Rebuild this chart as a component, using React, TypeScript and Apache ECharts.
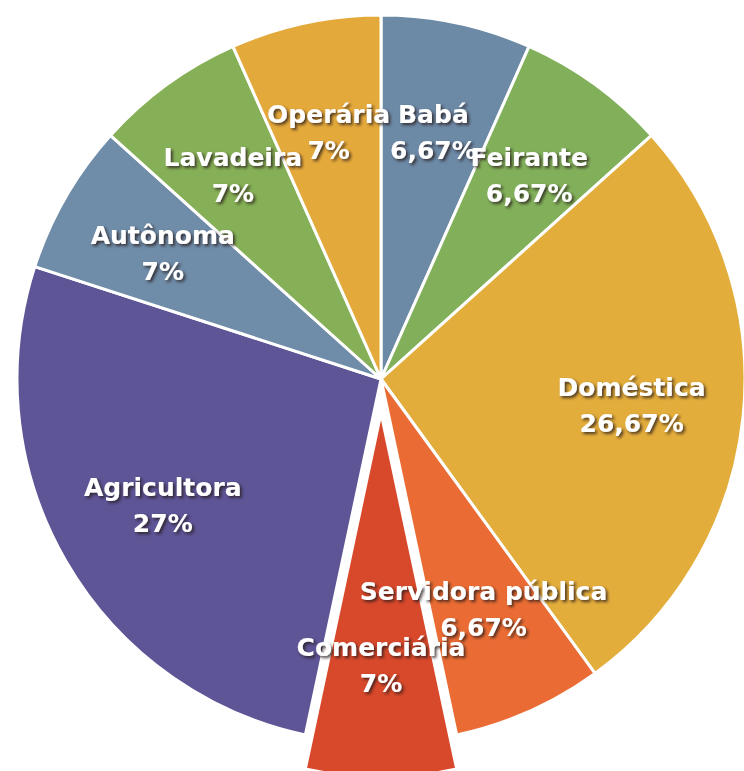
import React, { useEffect, useRef } from "react";
import * as echarts from "echarts";

const categories = [
  "Babá",
  "Feirante",
  "Doméstica",
  "Servidora pública",
  "Comerciária",
  "Agricultora",
  "Autônoma",
  "Lavadeira",
  "Operária",
];
const values = [6.67, 6.67, 26.67, 6.67, 6.67, 26.67, 6.67, 6.67, 6.67];
const percentLabels = ["6,67%", "6,67%", "26,67%", "6,67%", "7%", "27%", "7%", "7%", "7%"];
const colors = [
  "#6c89a6",
  "#82b05a",
  "#e3ad3c",
  "#ea6c34",
  "#d8492b",
  "#5d5596",
  "#6f8ca8",
  "#86b057",
  "#e4a93b",
];
const explodedIndex = 4;

export default function App() {
  const ref = useRef<HTMLDivElement>(null);
  useEffect(() => {
    if (!ref.current) return;
    const chart = echarts.init(ref.current, undefined, { renderer: "svg" });
    const center = [381, 379];
    const R = 364;
    const offset = 34;
    const mainData = categories.map((name, i) => ({
      name,
      value: values[i],
      selected: i === explodedIndex,
      itemStyle: { color: colors[i] },
    }));
    const labelData = categories.map((name, i) => ({
      name,
      value: values[i],
      selected: i === explodedIndex,
    }));
    chart.setOption({
      animation: false,
      backgroundColor: "#ffffff",
      series: [
        {
          type: "pie",
          center,
          radius: [0, R],
          startAngle: 90,
          clockwise: true,
          selectedMode: "single",
          selectedOffset: offset,
          silent: true,
          data: mainData,
          label: { show: false },
          labelLine: { show: false },
          itemStyle: { borderColor: "#ffffff", borderWidth: 3 },
          emphasis: { disabled: true },
        },
        {
          type: "pie",
          center,
          radius: [134, R],
          startAngle: 90,
          clockwise: true,
          selectedMode: "single",
          selectedOffset: offset,
          silent: true,
          data: labelData,
          itemStyle: { color: "rgba(0,0,0,0)", borderWidth: 0 },
          labelLine: { show: false },
          labelLayout: { hideOverlap: false },
          emphasis: { disabled: true },
          label: {
            show: true,
            position: "inside",
            formatter: (p: any) => `${p.name}\n${percentLabels[p.dataIndex]}`,
            color: "#ffffff",
            fontFamily: "DejaVu Sans",
            fontWeight: "bold",
            fontSize: 25,
            lineHeight: 36,
            align: "center",
            textShadowColor: "rgba(40,30,20,0.8)",
            textShadowBlur: 3,
            textShadowOffsetX: 2,
            textShadowOffsetY: 2,
          },
        },
      ],
    });
    return () => chart.dispose();
  }, []);
  return (
    <div
      ref={ref}
      style={{ position: "fixed", left: 0, top: 0, width: 744, height: 771, background: "#fff" }}
    />
  );
}
